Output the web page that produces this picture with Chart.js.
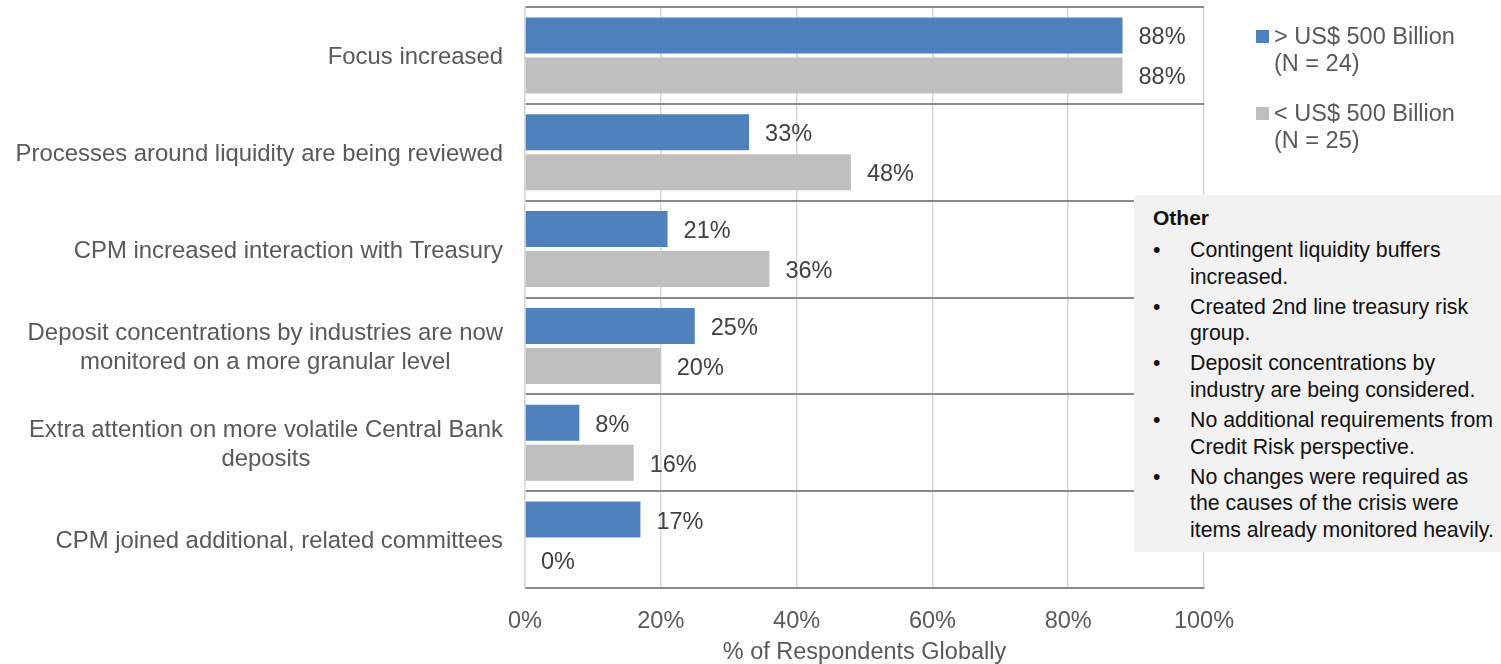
<!DOCTYPE html>
<html>
<head>
<meta charset="utf-8">
<title>Changes to liquidity risk oversight</title>
<script src="https://cdn.jsdelivr.net/npm/chart.js@4.4.1/dist/chart.umd.min.js"></script>
<style>
  html, body { margin: 0; padding: 0; background: #fff; }
  body { width: 1501px; height: 664px; position: relative; overflow: hidden;
         font-family: "Liberation Sans", Arial, sans-serif; }
  #wrap { position: absolute; left: 0; top: 0; width: 1501px; height: 664px; }
  #legend { position: absolute; left: 1256px; top: 23px; color: #595959; font-size: 23.5px; }
  .lg-item { position: relative; padding-left: 18px; line-height: 27px; margin-bottom: 23px; }
  .lg-box { position: absolute; left: 0; top: 7px; width: 13px; height: 13px; }
  #other { position: absolute; left: 1134px; top: 195px; width: 367px; height: 357px;
           background: #F2F2F2; color: #111; font-size: 21.3px; box-sizing: border-box;
           padding: 10px 0 0 19px; }
  #other h4 { margin: 0 0 6px 0; font-size: 21px; font-weight: bold; line-height: 26px; }
  #other ul { list-style: none; margin: 0; padding: 0; }
  #other li { position: relative; padding-left: 37px; line-height: 26.5px; margin-bottom: 3.7px; }
  #other li::before { content: "\2022"; position: absolute; left: 0; top: 0; }
</style>
</head>
<body>
<div id="wrap"><canvas id="chart" width="1501" height="664"></canvas></div>
<div id="legend"></div>
<div id="other"><h4 id="otherTitle"></h4><ul id="otherList"></ul></div>
<script>
// Survey responses, one row per category (top to bottom)
const categories = [
  ['Focus increased'],
  ['Processes around liquidity are being reviewed'],
  ['CPM increased interaction with Treasury'],
  ['Deposit concentrations by industries are now', 'monitored on a more granular level'],
  ['Extra attention on more volatile Central Bank', 'deposits'],
  ['CPM joined additional, related committees']
];
const seriesNames = [
  ['> US$ 500 Billion', '(N = 24)'],
  ['< US$ 500 Billion', '(N = 25)']
];
const largeBanks = [88, 33, 21, 25, 8, 17];
const smallBanks = [88, 48, 36, 20, 16, 0];
const xTicks = [0, 20, 40, 60, 80, 100];
const axisTitle = '% of Respondents Globally';
const otherTitle = 'Other';
const otherNotes = [
  ['Contingent liquidity buffers', 'increased.'],
  ['Created 2nd line treasury risk', 'group.'],
  ['Deposit concentrations by', 'industry are being considered.'],
  ['No additional requirements from', 'Credit Risk perspective.'],
  ['No changes were required as', 'the causes of the crisis were', 'items already monitored heavily.']
];

const seriesColors = ['#4F81BD', '#BFBFBF'];
const FONT = '"Liberation Sans", Arial, sans-serif';

// Category labels: block right-aligned to the axis, lines centred within the block
const categoryLabels = {
  id: 'categoryLabels',
  afterDraw(chart) {
    const { ctx, chartArea } = chart;
    const y = chart.scales.y;
    ctx.save();
    ctx.font = '23.9px ' + FONT;
    ctx.fillStyle = '#595959';
    ctx.textAlign = 'center';
    ctx.textBaseline = 'middle';
    const right = chartArea.left - 22;
    const lh = 29.5;
    categories.forEach((lines, i) => {
      const cy = y.getPixelForValue(i) + 2;
      const w = Math.max(...lines.map(l => ctx.measureText(l).width));
      const cx = right - w / 2;
      lines.forEach((l, k) => {
        ctx.fillText(l, cx, cy + (k - (lines.length - 1) / 2) * lh);
      });
    });
    ctx.restore();
  }
};

// Value labels just past the end of each bar
const valueLabels = {
  id: 'valueLabels',
  afterDatasetsDraw(chart) {
    const { ctx } = chart;
    ctx.save();
    ctx.font = '23.5px ' + FONT;
    ctx.fillStyle = '#404040';
    ctx.textAlign = 'left';
    ctx.textBaseline = 'middle';
    chart.data.datasets.forEach((ds, di) => {
      chart.getDatasetMeta(di).data.forEach((bar, i) => {
        ctx.fillText(ds.data[i] + '%', bar.x + 16, bar.y + 2.5);
      });
    });
    ctx.restore();
  }
};

const chart = new Chart(document.getElementById('chart'), {
  type: 'bar',
  data: {
    labels: categories.map(c => c.join(' ')),
    datasets: [
      { label: seriesNames[0].join(' '), data: largeBanks, backgroundColor: seriesColors[0] },
      { label: seriesNames[1].join(' '), data: smallBanks, backgroundColor: seriesColors[1] }
    ]
  },
  options: {
    indexAxis: 'y',
    responsive: false,
    animation: false,
    devicePixelRatio: 1,
    categoryPercentage: 0.826,
    barPercentage: 0.9,
    layout: { padding: { top: 7, right: 297, bottom: 0, left: 0 } },
    plugins: { legend: { display: false }, tooltip: { enabled: false } },
    scales: {
      x: {
        min: 0, max: 100,
        afterBuildTicks(scale) { scale.ticks = xTicks.map(v => ({ value: v })); },
        afterFit(scale) { scale.height = 76; },
        ticks: {
          callback: v => v + '%',
          color: '#595959',
          font: { family: FONT, size: 23.5 },
          padding: 19,
          maxRotation: 0
        },
        grid: { color: '#D9D9D9', lineWidth: 1.5, drawTicks: false },
        border: { display: true, color: '#898989', width: 2 },
        title: {
          display: true, text: axisTitle, color: '#595959',
          font: { family: FONT, size: 23.5, lineHeight: 1 },
          padding: { top: 0, bottom: 0 }
        }
      },
      y: {
        afterFit(scale) { scale.width = 525; },
        ticks: { display: false },
        grid: { offset: true, color: '#898989', lineWidth: 2, drawTicks: false },
        border: { display: true, color: '#D9D9D9', width: 1.5 }
      }
    }
  },
  plugins: [categoryLabels, valueLabels]
});

// Legend built from the datasets
const legendEl = document.getElementById('legend');
chart.data.datasets.forEach((ds, i) => {
  const item = document.createElement('div');
  item.className = 'lg-item';
  const box = document.createElement('span');
  box.className = 'lg-box';
  box.style.background = ds.backgroundColor;
  item.appendChild(box);
  seriesNames[i].forEach(line => {
    const d = document.createElement('div');
    d.textContent = line;
    item.appendChild(d);
  });
  legendEl.appendChild(item);
});

// "Other" responses panel
document.getElementById('otherTitle').textContent = otherTitle;
const list = document.getElementById('otherList');
otherNotes.forEach(lines => {
  const li = document.createElement('li');
  lines.forEach((l, k) => {
    if (k) li.appendChild(document.createElement('br'));
    li.appendChild(document.createTextNode(l));
  });
  list.appendChild(li);
});
</script>
</body>
</html>
